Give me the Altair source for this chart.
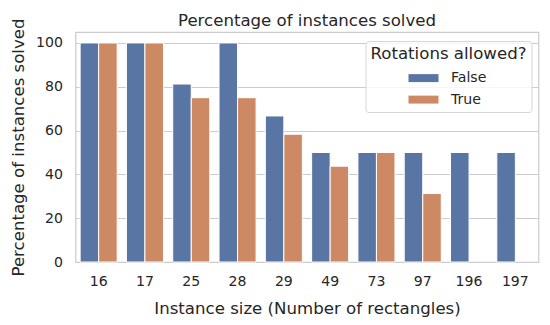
import altair as alt
import pandas as pd

sizes = ["16", "17", "25", "28", "29", "49", "73", "97", "196", "197"]
solved_false = [100, 100, 81.25, 100, 66.67, 50, 50, 50, 50, 50]
solved_true = [100, 100, 75, 75, 58.33, 43.75, 50, 31.25, None, None]
groups = ["False", "True"]
colors = ["#5975a4", "#cc8963"]

rows = []
for s, f, t in zip(sizes, solved_false, solved_true):
    rows.append({"size": s, "rot": "False", "pct": f})
    if t is not None:
        rows.append({"size": s, "rot": "True", "pct": t})
df = pd.DataFrame(rows)

TXT = "#262626"
FONT = "DejaVu Sans"
BIG = 16.6
SMALL = 14.1

chart = alt.Chart(df).mark_bar(stroke="white", strokeWidth=1).encode(
    x=alt.X(
        "size:N", sort=sizes,
        scale=alt.Scale(paddingInner=0.2, paddingOuter=0.1),
        axis=alt.Axis(title="Instance size (Number of rectangles)", labelAngle=0,
                      ticks=False, domain=False, grid=False,
                      labelPadding=12, titlePadding=12),
    ),
    xOffset=alt.XOffset("rot:N", scale=alt.Scale(domain=groups, paddingInner=0, paddingOuter=0)),
    y=alt.Y(
        "pct:Q",
        scale=alt.Scale(domain=[0, 105], nice=False, zero=True),
        axis=alt.Axis(title="Percentage of instances solved", values=[0, 20, 40, 60, 80, 100],
                      ticks=False, domain=False, grid=True, gridColor="#cccccc", gridWidth=1,
                      labelPadding=13, titlePadding=9),
    ),
    color=alt.Color(
        "rot:N",
        scale=alt.Scale(domain=groups, range=colors),
        legend=alt.Legend(
            title="Rotations allowed?", orient="none", legendX=290, legendY=9,
            padding=5, strokeColor="#d6d6d6", cornerRadius=3,
            fillColor="rgba(255,255,255,0.8)",
            symbolType="M-2,-0.53H2V0.53H-2Z", symbolSize=225,
            symbolStrokeWidth=0, symbolOpacity=1,
            symbolOffset=45.5, labelOffset=20,
            rowPadding=6.5, titlePadding=8,
            titleFontSize=BIG, labelFontSize=SMALL, titleFontWeight="normal",
            titleColor=TXT, labelColor=TXT, titleFont=FONT, labelFont=FONT,
        ),
    ),
).properties(
    width=463, height=230,
    title=alt.TitleParams("Percentage of instances solved", fontSize=BIG, fontWeight="normal",
                          font=FONT, color=TXT, anchor="middle", baseline="alphabetic",
                          offset=6, frame="group", dy=31),
    autosize=alt.AutoSizeParams(type="none"),
    padding={"left": 75.5, "top": 32, "right": 11.5, "bottom": 63},
).configure_view(
    stroke="#cccccc", strokeWidth=1.25
).configure_axis(
    labelFont=FONT, titleFont=FONT, labelFontSize=SMALL, titleFontSize=BIG,
    labelColor=TXT, titleColor=TXT, titleFontWeight="normal",
)

chart.save("out.html", embed_options={"renderer": "svg", "actions": False})
